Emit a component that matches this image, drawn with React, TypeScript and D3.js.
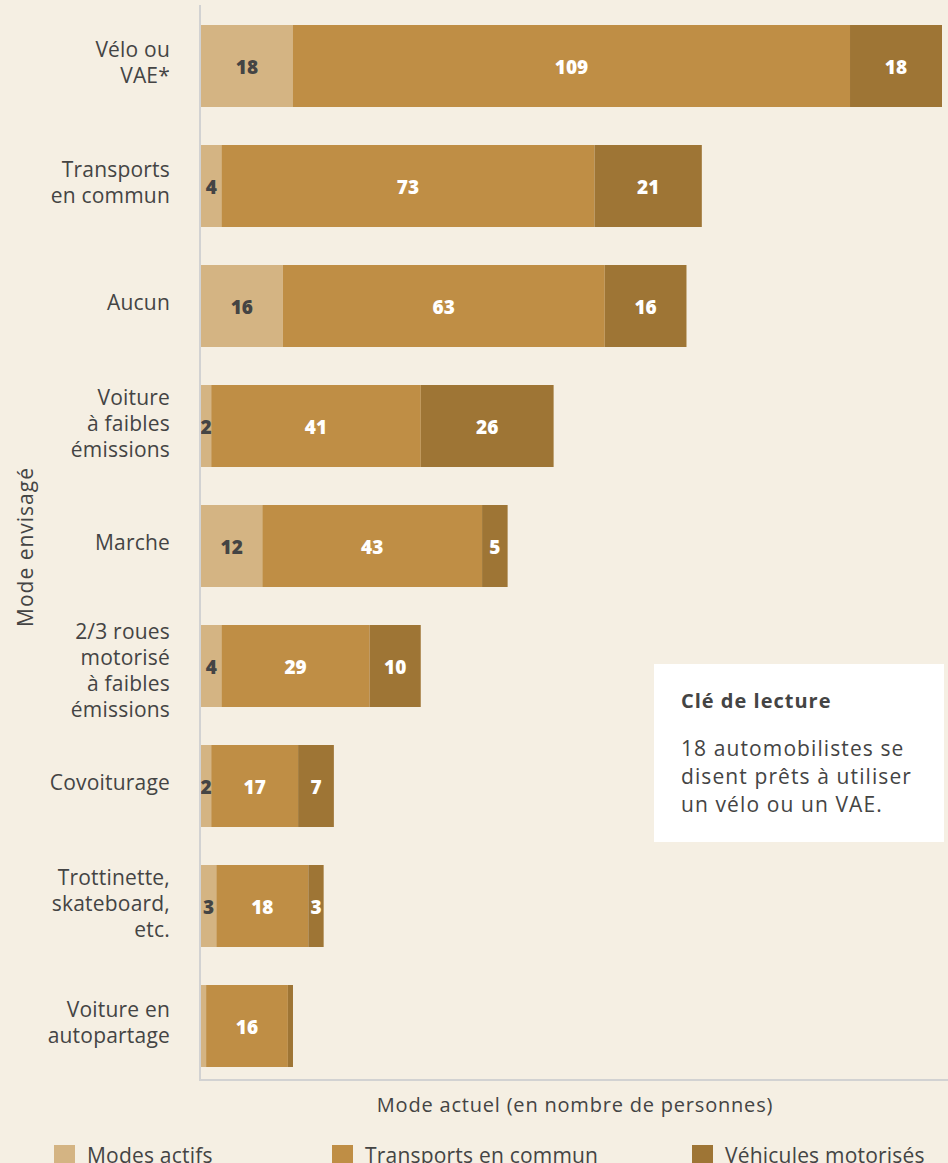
import React from "react";
import * as d3 from "d3";

const categories: string[][] = [
  ["Vélo ou", "VAE*"],
  ["Transports", "en commun"],
  ["Aucun"],
  ["Voiture", "à faibles", "émissions"],
  ["Marche"],
  ["2/3 roues", "motorisé", "à faibles", "émissions"],
  ["Covoiturage"],
  ["Trottinette,", "skateboard,", "etc."],
  ["Voiture en", "autopartage"],
];
const modesActifs = [18, 4, 16, 2, 12, 4, 2, 3, 1];
const transportsCommun = [109, 73, 63, 41, 43, 29, 17, 18, 16];
const vehiculesMotorises = [18, 21, 16, 26, 5, 10, 7, 3, 1];
const seriesNames = ["Modes actifs", "Transports en commun", "Véhicules motorisés"];
const keyTitle = "Clé de lecture";
const keyLines = ["18 automobilistes se", "disent prêts à utiliser", "un vélo ou un VAE."];
const colors = ["#d4b483", "#bf8e45", "#9e7535"];
const labelColors = ["#444444", "#ffffff", "#ffffff"];

const W = 948;
const H = 1163;
const FONT = "'Open Sans', sans-serif";

export default function App() {
  const series = [modesActifs, transportsCommun, vehiculesMotorises];
  const idx = categories.map((_, i) => String(i));
  const x = d3.scaleLinear().domain([0, 145]).range([201, 942]);
  const y = d3.scaleBand().domain(idx).range([6, 1086]).paddingInner(0.3167).paddingOuter(0.3167 / 2);
  const rows = categories.map((c, i) => {
    let acc = 0;
    return series.map((s, k) => {
      const x0 = acc;
      acc += s[i];
      return { k, v: s[i], x0, x1: acc };
    });
  });
  const textColor = "#444444";
  return (
    <svg width={W} height={H} style={{ position: "absolute", left: 0, top: 0, background: "#f5efe3" }} fontFamily={FONT}>
      <rect x={0} y={0} width={W} height={H} fill="#f5efe3" />
      {rows.map((segs, i) => {
        const y0 = y(String(i))!;
        const bw = y.bandwidth();
        const cy = y0 + bw / 2;
        const lines = categories[i];
        const lh = 26;
        const off = lines.length === 4 ? 5 : lines.length === 3 ? -2 : -3;
        return (
          <g key={i}>
            {segs.map((s) => (
              <rect key={s.k} x={x(s.x0)} y={y0} width={x(s.x1) - x(s.x0)} height={bw} fill={colors[s.k]} />
            ))}
            {segs.map((s) =>
              s.v >= 2 ? (
                <text
                  key={"t" + s.k}
                  x={(x(s.x0) + x(s.x1)) / 2}
                  y={cy + 1.5}
                  dy="0.35em"
                  textAnchor="middle"
                  fontSize={19}
                  fontWeight={800}
                  fill={labelColors[s.k]}
                >
                  {s.v}
                </text>
              ) : null
            )}
            {lines.map((l, j) => (
              <text
                key={"l" + j}
                x={170}
                y={cy + off + (j - (lines.length - 1) / 2) * lh}
                dy="0.35em"
                textAnchor="end"
                fontSize={21}
                letterSpacing={0.2}
                fill={textColor}
              >
                {l}
              </text>
            ))}
          </g>
        );
      })}
      <line x1={200} x2={200} y1={5} y2={1080} stroke="#d2d2d2" strokeWidth={2} />
      <line x1={199} x2={948} y1={1080} y2={1080} stroke="#d2d2d2" strokeWidth={2} />
      <text x={575} y={1112} textAnchor="middle" fontSize={20} letterSpacing={0.8} fill={textColor}>
        Mode actuel (en nombre de personnes)
      </text>
      <text transform="translate(33,547) rotate(-90)" textAnchor="middle" fontSize={21} letterSpacing={1} fill={textColor}>
        Mode envisagé
      </text>
      <rect x={654} y={664} width={290} height={178} fill="#ffffff" />
      <text x={681} y={708} fontSize={20} fontWeight={700} letterSpacing={1} fill={textColor}>
        {keyTitle}
      </text>
      {keyLines.map((t, j) => (
        <text key={j} x={681} y={756 + j * 28} fontSize={21} letterSpacing={1.1} fill={textColor}>
          {t}
        </text>
      ))}
      {seriesNames.map((n, k) => {
        const lx = [54, 332, 692][k];
        return (
          <g key={n}>
            <rect x={lx} y={1145} width={21} height={21} fill={colors[k]} />
            <text x={lx + 33} y={1163} fontSize={21} letterSpacing={0.2} fill={textColor}>
              {n}
            </text>
          </g>
        );
      })}
    </svg>
  );
}
